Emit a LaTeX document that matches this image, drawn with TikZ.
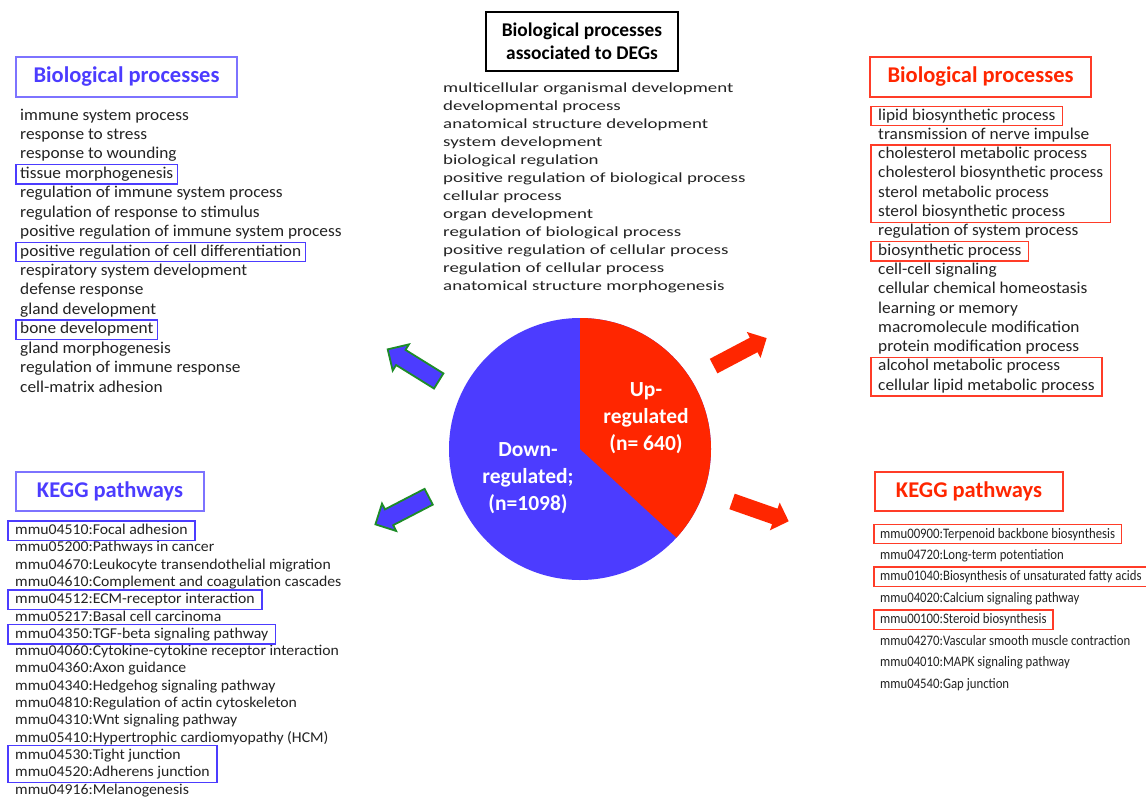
\documentclass[tikz,border=0pt]{standalone}
\usepackage{fontspec}
\setmainfont{Carlito}
\newfontfamily\sidefont[FakeStretch=1.05]{Carlito}
\newfontfamily\midfont[FakeStretch=1.35]{Carlito}
\newfontfamily\narrowfont[FakeStretch=0.88]{Carlito}
\usetikzlibrary{shapes.arrows,fit}

\definecolor{downblue}{RGB}{76,60,255}
\definecolor{upred}{RGB}{255,38,0}
\definecolor{boxblue}{RGB}{125,115,255}
\definecolor{boxred}{RGB}{255,60,40}
\definecolor{arrowgreen}{RGB}{30,140,40}
\definecolor{listgray}{RGB}{35,35,35}

\begin{document}
\begin{tikzpicture}[x=1pt, y=-1pt,
  item/.style={anchor=west, inner sep=0pt, text height=11.5pt, text depth=3.5pt, text=listgray},
  bpitem/.style={item, font=\sidefont\fontsize{16.5}{18}\selectfont},
  miditem/.style={item, font=\midfont\fontsize{14}{16}\selectfont},
  keggitem/.style={item, font=\sidefont\fontsize{15}{17}\selectfont},
  rkeggitem/.style={item, font=\narrowfont\fontsize{14.5}{17}\selectfont},
  header/.style={draw, line width=1.2pt, minimum width=221pt, minimum height=40pt, font=\fontsize{22.5}{26}\selectfont\bfseries},
  kegghead/.style={header, minimum width=188pt, minimum height=39pt},
  hlblue/.style={draw=downblue, line width=1.4pt, inner xsep=4pt, inner ysep=2pt},
  hlred/.style={draw=boxred, line width=1.4pt, inner xsep=4pt, inner ysep=2pt},
  pielabel/.style={text=white, align=center, font=\fontsize{21.5}{27}\selectfont\bfseries},
  blockarrow/.style={single arrow, single arrow head extend=6.5pt, minimum height=60pt, inner xsep=0pt, inner ysep=8pt},
  downarrow/.style={blockarrow, fill=downblue, draw=arrowgreen, line width=1.8pt},
  uparrow/.style={blockarrow, fill=upred}
]
\useasboundingbox[fill=white] (0,0) rectangle (1146,798);

% ---- title in the middle ----
\node[draw, line width=1.2pt, minimum width=192pt, minimum height=59pt, align=center,
  font=\fontsize{19.4}{23}\selectfont\bfseries] (deg-head) at (582,41.5)
  {Biological processes\\associated to DEGs};
\foreach \t [count=\i] in {multicellular organismal development, developmental process,
  anatomical structure development, system development, biological regulation,
  positive regulation of biological process, cellular process, organ development,
  regulation of biological process, positive regulation of cellular process,
  regulation of cellular process, anatomical structure morphogenesis}
  \node[miditem] (cbp-\i) at (443, {88+(\i-1)*18}) {\t};

% ---- pie ----
\coordinate (pie) at (580,449);
\fill[downblue] (pie) circle (131);
\fill[upred] (pie) -- ++(0,-131) arc[start angle=-90, end angle=42.6, radius=131] -- cycle;
\node[pielabel] (up-label) at (646,418) {Up-\\regulated\\(n= 640)};
\node[pielabel] (down-label) at (528,478) {Down-\\regulated;\\(n=1098)};

% ---- arrows ----
\node[downarrow, rotate=148.2] (down-bp-arrow) at (417,367.5) {};
\node[downarrow, rotate=207.4] (down-kegg-arrow) at (406,508.5) {};
\node[uparrow, rotate=27.8] (up-bp-arrow) at (736.5,354) {};
\node[uparrow, rotate=-19.3] (up-kegg-arrow) at (756.5,510) {};

% ---- down-regulated: biological processes ----
\node[header, draw=boxblue, text=downblue] (lbp-head) at (126.5,77) {Biological processes};
\foreach \t [count=\i] in {immune system process, response to stress, response to wounding,
  tissue morphogenesis, regulation of immune system process,
  regulation of response to stimulus, positive regulation of immune system process,
  positive regulation of cell differentiation, respiratory system development,
  defense response, gland development, bone development, gland morphogenesis,
  regulation of immune response, cell-matrix adhesion}
  \node[bpitem] (lbp-\i) at (20, {116+(\i-1)*19.43}) {\t};
\node[hlblue, fit=(lbp-4)] (lbp-hl-a) {};
\node[hlblue, fit=(lbp-8)] (lbp-hl-b) {};
\node[hlblue, fit=(lbp-12)] (lbp-hl-c) {};

% ---- down-regulated: KEGG ----
\node[kegghead, draw=boxblue, text=downblue] (lkegg-head) at (110,491.5) {KEGG pathways};
\foreach \t [count=\i] in {mmu04510:Focal adhesion, mmu05200:Pathways in cancer,
  mmu04670:Leukocyte transendothelial migration, mmu04610:Complement and coagulation cascades,
  mmu04512:ECM-receptor interaction, mmu05217:Basal cell carcinoma,
  mmu04350:TGF-beta signaling pathway, mmu04060:Cytokine-cytokine receptor interaction,
  mmu04360:Axon guidance, mmu04340:Hedgehog signaling pathway,
  mmu04810:Regulation of actin cytoskeleton, mmu04310:Wnt signaling pathway,
  mmu05410:Hypertrophic cardiomyopathy (HCM), mmu04530:Tight junction,
  mmu04520:Adherens junction, mmu04916:Melanogenesis}
  \node[keggitem] (lkegg-\i) at (15, {530.5+(\i-1)*17.3}) {\t};
\node[hlblue, inner xsep=7pt, fit=(lkegg-1)] (lkegg-hl-a) {};
\node[hlblue, inner xsep=7pt, fit=(lkegg-5)] (lkegg-hl-b) {};
\node[hlblue, inner xsep=7pt, fit=(lkegg-7)] (lkegg-hl-c) {};
\node[hlblue, inner xsep=7pt, fit=(lkegg-14)(lkegg-15)] (lkegg-hl-d) {};

% ---- up-regulated: biological processes ----
\node[header, draw=boxred, text=upred] (rbp-head) at (980.5,77) {Biological processes};
\foreach \t [count=\i] in {lipid biosynthetic process, transmission of nerve impulse,
  cholesterol metabolic process, cholesterol biosynthetic process, sterol metabolic process,
  sterol biosynthetic process, regulation of system process, biosynthetic process,
  cell-cell signaling, cellular chemical homeostasis, learning or memory,
  macromolecule modification, protein modification process, alcohol metabolic process,
  cellular lipid metabolic process}
  \node[bpitem] (rbp-\i) at (878, {116+(\i-1)*19.3}) {\t};
\node[hlred, inner xsep=7pt, fit=(rbp-1)] (rbp-hl-a) {};
\node[hlred, inner xsep=7pt, fit=(rbp-3)(rbp-4)(rbp-5)(rbp-6)] (rbp-hl-b) {};
\node[hlred, inner xsep=7pt, fit=(rbp-8)] (rbp-hl-c) {};
\node[hlred, inner xsep=7pt, fit=(rbp-14)(rbp-15)] (rbp-hl-d) {};

% ---- up-regulated: KEGG ----
\node[kegghead, draw=boxred, text=upred] (rkegg-head) at (969,491.5) {KEGG pathways};
\foreach \t [count=\i] in {mmu00900:Terpenoid backbone biosynthesis,
  mmu04720:Long-term potentiation, mmu01040:Biosynthesis of unsaturated fatty acids,
  mmu04020:Calcium signaling pathway, mmu00100:Steroid biosynthesis,
  mmu04270:Vascular smooth muscle contraction, mmu04010:MAPK signaling pathway,
  mmu04540:Gap junction}
  \node[rkeggitem] (rkegg-\i) at (880, {534+(\i-1)*21.43}) {\t};
\node[hlred, inner xsep=6pt, fit=(rkegg-1)] (rkegg-hl-a) {};
\node[hlred, inner xsep=6pt, fit=(rkegg-3)] (rkegg-hl-b) {};
\node[hlred, inner xsep=6pt, fit=(rkegg-5)] (rkegg-hl-c) {};

\end{tikzpicture}
\end{document}
